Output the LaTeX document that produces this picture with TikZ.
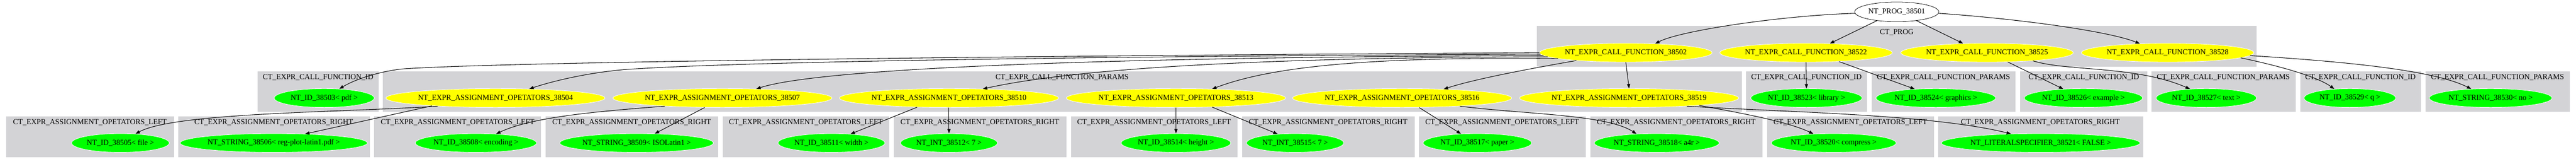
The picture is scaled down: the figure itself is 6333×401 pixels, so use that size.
\documentclass[tikz,border=0pt]{standalone}
\usepackage{fontspec}
\setmainfont{Liberation Serif}
\usetikzlibrary{shapes.geometric,arrows.meta}
\definecolor{cgray}{RGB}{211,211,214}
\definecolor{ngreen}{RGB}{0,255,0}
\definecolor{nyellow}{RGB}{255,255,0}
\begin{document}
\begin{tikzpicture}[x=0.75pt,y=-0.75pt,
  every node/.style={font=\fontsize{14pt}{16pt}\selectfont},
  ell/.style={ellipse, draw=white, line width=0.75pt, inner sep=0pt, minimum height=34.5pt},
  yel/.style={ell, fill=nyellow},
  grn/.style={ell, fill=ngreen},
  prognode/.style={ell, draw=black, fill=white, minimum width=155pt, minimum height=36pt},
  clus/.style={fill=cgray, draw=white, line width=0.75pt},
  clab/.style={inner sep=0pt},
  edge/.style={draw=black, line width=1pt, -{Triangle[length=8pt,width=6pt]}}
]
\useasboundingbox (0,0) rectangle (6333,401);
\fill[white] (0,0) rectangle (6333,401);

% clusters
\draw[clus] (3777,63) rectangle (5548,164);
\node[clab] (lprog) at (4663,79) {CT\_PROG};

\draw[clus] (633,174) rectangle (932,274);
\draw[clus] (940,174) rectangle (4283,274);
\draw[clus] (4292,174) rectangle (4591,274);
\draw[clus] (4601,174) rectangle (4956,274);
\draw[clus] (4966,174) rectangle (5280,274);
\draw[clus] (5288,174) rectangle (5644,274);
\draw[clus] (5654,174) rectangle (5952,274);
\draw[clus] (5962,174) rectangle (6318,274);
\node[clab] (la1) at (782,189) {CT\_EXPR\_CALL\_FUNCTION\_ID};
\node[clab] (la2) at (2611,189) {CT\_EXPR\_CALL\_FUNCTION\_PARAMS};
\node[clab] (la3) at (4441,189) {CT\_EXPR\_CALL\_FUNCTION\_ID};
\node[clab] (la4) at (4778,189) {CT\_EXPR\_CALL\_FUNCTION\_PARAMS};
\node[clab] (la5) at (5123,189) {CT\_EXPR\_CALL\_FUNCTION\_ID};
\node[clab] (la6) at (5466,189) {CT\_EXPR\_CALL\_FUNCTION\_PARAMS};
\node[clab] (la7) at (5803,189) {CT\_EXPR\_CALL\_FUNCTION\_ID};
\node[clab] (la8) at (6140,189) {CT\_EXPR\_CALL\_FUNCTION\_PARAMS};

\draw[clus] (15,284) rectangle (428,386);
\draw[clus] (437,284) rectangle (910,386);
\draw[clus] (919,284) rectangle (1331,386);
\draw[clus] (1341,284) rectangle (1766,386);
\draw[clus] (1776,284) rectangle (2187,386);
\draw[clus] (2197,284) rectangle (2622,386);
\draw[clus] (2632,284) rectangle (3043,386);
\draw[clus] (3053,284) rectangle (3478,386);
\draw[clus] (3488,284) rectangle (3899,386);
\draw[clus] (3909,284) rectangle (4334,386);
\draw[clus] (4343,284) rectangle (4755,386);
\draw[clus] (4764,284) rectangle (5269,386);
\node[clab] (lb1) at (221,300) {CT\_EXPR\_ASSIGNMENT\_OPETATORS\_LEFT};
\node[clab] (lb2) at (673,300) {CT\_EXPR\_ASSIGNMENT\_OPETATORS\_RIGHT};
\node[clab] (lb3) at (1125,300) {CT\_EXPR\_ASSIGNMENT\_OPETATORS\_LEFT};
\node[clab] (lb4) at (1553,300) {CT\_EXPR\_ASSIGNMENT\_OPETATORS\_RIGHT};
\node[clab] (lb5) at (1981,300) {CT\_EXPR\_ASSIGNMENT\_OPETATORS\_LEFT};
\node[clab] (lb6) at (2409,300) {CT\_EXPR\_ASSIGNMENT\_OPETATORS\_RIGHT};
\node[clab] (lb7) at (2837,300) {CT\_EXPR\_ASSIGNMENT\_OPETATORS\_LEFT};
\node[clab] (lb8) at (3265,300) {CT\_EXPR\_ASSIGNMENT\_OPETATORS\_RIGHT};
\node[clab] (lb9) at (3693,300) {CT\_EXPR\_ASSIGNMENT\_OPETATORS\_LEFT};
\node[clab] (lb10) at (4121,300) {CT\_EXPR\_ASSIGNMENT\_OPETATORS\_RIGHT};
\node[clab] (lb11) at (4549,300) {CT\_EXPR\_ASSIGNMENT\_OPETATORS\_LEFT};
\node[clab] (lb12) at (5016,300) {CT\_EXPR\_ASSIGNMENT\_OPETATORS\_RIGHT};

% nodes
\node[prognode] (n38501) at (4663,29) {NT\_PROG\_38501};
\node[yel, minimum width=313.5pt] (n38502) at (3997,129) {NT\_EXPR\_CALL\_FUNCTION\_38502};
\node[yel, minimum width=313.5pt] (n38522) at (4440,129) {NT\_EXPR\_CALL\_FUNCTION\_38522};
\node[yel, minimum width=313.5pt] (n38525) at (4885,129) {NT\_EXPR\_CALL\_FUNCTION\_38525};
\node[yel, minimum width=313.5pt] (n38528) at (5329,129) {NT\_EXPR\_CALL\_FUNCTION\_38528};

\node[grn, minimum width=184.5pt] (n38503) at (797,240) {NT\_ID\_38503< pdf >};
\node[yel, minimum width=400.5pt] (n38504) at (1218,240) {NT\_EXPR\_ASSIGNMENT\_OPETATORS\_38504};
\node[yel, minimum width=400.5pt] (n38507) at (1776,240) {NT\_EXPR\_ASSIGNMENT\_OPETATORS\_38507};
\node[yel, minimum width=400.5pt] (n38510) at (2333,240) {NT\_EXPR\_ASSIGNMENT\_OPETATORS\_38510};
\node[yel, minimum width=400.5pt] (n38513) at (2891,240) {NT\_EXPR\_ASSIGNMENT\_OPETATORS\_38513};
\node[yel, minimum width=400.5pt] (n38516) at (3447,240) {NT\_EXPR\_ASSIGNMENT\_OPETATORS\_38516};
\node[yel, minimum width=400.5pt] (n38519) at (4005,240) {NT\_EXPR\_ASSIGNMENT\_OPETATORS\_38519};
\node[grn, minimum width=205pt] (n38523) at (4441,240) {NT\_ID\_38523< library >};
\node[grn, minimum width=220.5pt] (n38524) at (4759,240) {NT\_ID\_38524< graphics >};
\node[grn, minimum width=218pt] (n38526) at (5122,240) {NT\_ID\_38526< example >};
\node[grn, minimum width=185pt] (n38527) at (5424,240) {NT\_ID\_38527< text >};
\node[grn, minimum width=169pt] (n38529) at (5777,240) {NT\_ID\_38529< q >};
\node[grn, minimum width=226pt] (n38530) at (6123,240) {NT\_STRING\_38530< no >};

\node[grn, minimum width=180pt] (n38505) at (296,350) {NT\_ID\_38505< file >};
\node[grn, minimum width=337.5pt] (n38506) at (673,350) {NT\_STRING\_38506< reg-plot-latin1.pdf >};
\node[grn, minimum width=223.5pt] (n38508) at (1170,350) {NT\_ID\_38508< encoding >};
\node[grn, minimum width=282pt] (n38509) at (1565,350) {NT\_STRING\_38509< ISOLatin1 >};
\node[grn, minimum width=197pt] (n38511) at (2044,350) {NT\_ID\_38511< width >};
\node[grn, minimum width=178.5pt] (n38512) at (2333,350) {NT\_INT\_38512< 7 >};
\node[grn, minimum width=202pt] (n38514) at (2891,350) {NT\_ID\_38514< height >};
\node[grn, minimum width=179pt] (n38515) at (3184,350) {NT\_INT\_38515< 7 >};
\node[grn, minimum width=200pt] (n38517) at (3632,350) {NT\_ID\_38517< paper >};
\node[grn, minimum width=230pt] (n38518) at (4073,350) {NT\_STRING\_38518< a4r >};
\node[grn, minimum width=230pt] (n38520) at (4508,350) {NT\_ID\_38520< compress >};
\node[grn, minimum width=361.5pt] (n38521) at (5017,350) {NT\_LITERALSPECIFIER\_38521< FALSE >};

% edges from the program node
\draw[edge] (n38501.182) .. controls (4380,38) and (4130,75) .. (n38502.17);
\draw[edge] (n38501.204) -- (n38522.21);
\draw[edge] (n38501.336) -- (n38525.159);
\draw[edge] (n38501.358) .. controls (4950,45) and (5180,75) .. (n38528.162);

% edges from 38502
\draw[edge] (n38502.180) .. controls (2600,136) and (1300,150) .. (1000,168) .. controls (950,171) and (880,190) .. (n38503.31);
\draw[edge] (n38502.181) .. controls (2600,138) and (1800,152) .. (1540,170) .. controls (1450,177) and (1360,198) .. (n38504.15);
\draw[edge] (n38502.182) .. controls (2600,140) and (2000,172) .. (n38507.15);
\draw[edge] (n38502.183) .. controls (3300,140) and (2700,155) .. (n38510.15);
\draw[edge] (n38502.185) .. controls (3350,138) and (3120,165) .. (n38513.14);
\draw[edge] (n38502.189) .. controls (3750,170) and (3620,195) .. (n38516.12);
\draw[edge] (n38502.south) -- (n38519.north);

% assignment edges
\draw[edge] (n38504.188) .. controls (850,275) and (430,275) .. (n38505.31);
\draw[edge] (n38504.187) -- (n38506.16);
\draw[edge] (n38507.188) .. controls (1480,272) and (1310,285) .. (n38508.24);
\draw[edge] (n38507.208) -- (n38509.27);
\draw[edge] (n38510.196) -- (n38511.25);
\draw[edge] (n38510.south) -- (n38512.north);
\draw[edge] (n38513.south) -- (n38514.north);
\draw[edge] (n38513.346) -- (n38515.153);
\draw[edge] (n38516.331) -- (n38517.151);
\draw[edge] (n38516.352) .. controls (3750,280) and (3950,280) .. (n38518.156);
\draw[edge] (n38519.354) .. controls (4300,280) and (4400,300) .. (n38520.156);
\draw[edge] (n38519.352) .. controls (4400,275) and (4750,280) .. (n38521.163);

% other call edges
\draw[edge] (n38522.south) -- (n38523.north);
\draw[edge] (n38522.345) -- (n38524.157);
\draw[edge] (n38525.336) -- (n38526.156);
\draw[edge] (n38525.350) .. controls (5080,175) and (5250,160) .. (n38527.151);
\draw[edge] (n38528.356) .. controls (5620,165) and (5700,190) .. (n38529.150);
\draw[edge] (n38528.358) .. controls (5750,150) and (5980,170) .. (n38530.155);
\end{tikzpicture}
\end{document}
